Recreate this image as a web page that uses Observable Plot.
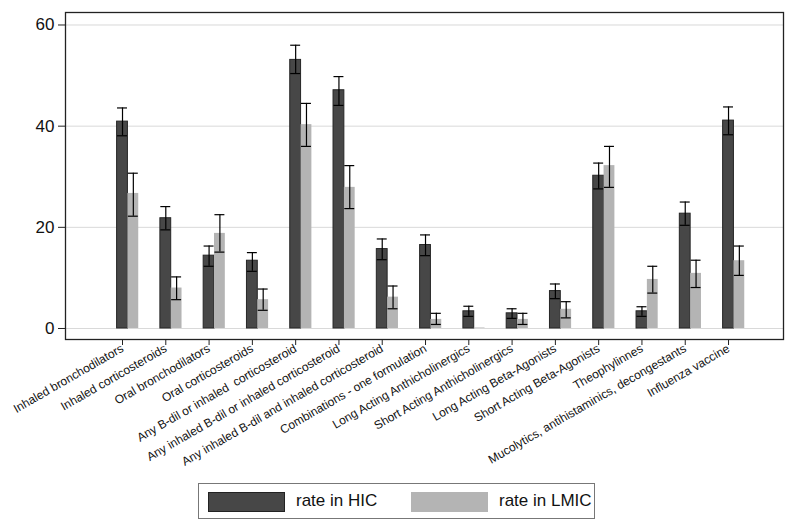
<!DOCTYPE html>
<html>
<head>
<meta charset="utf-8">
<script src="https://cdn.jsdelivr.net/npm/d3@7"></script>
<script src="https://cdn.jsdelivr.net/npm/@observablehq/plot@0.6"></script>
<style>
  body { margin: 0; background: #fff; font-family: "Liberation Sans", Arial, sans-serif; }
  #wrap { position: relative; width: 800px; height: 530px; }
  svg text { white-space: pre; }
  #legend { position: absolute; left: 198px; top: 483px; width: 397px; height: 36px; border: 1px solid #777; box-sizing: border-box; font-size: 17px; color: #111; }
  .sw { position: absolute; top: 8px; width: 77px; height: 20px; box-sizing: border-box; }
  .lab { position: absolute; top: 7px; line-height: 20px; }
</style>
</head>
<body>
<div id="wrap">
  <div id="chart"></div>
  <div id="legend">
    <div class="sw" style="left:9px;background:#474747;border:1px solid #222;"></div>
    <div class="lab" style="left:97px;">rate in HIC</div>
    <div class="sw" style="left:212px;background:#b4b4b4;"></div>
    <div class="lab" style="left:300px;">rate in LMIC</div>
  </div>
</div>
<script>
const categories = [
  "Inhaled bronchodilators",
  "Inhaled corticosteroids",
  "Oral bronchodilators",
  "Oral corticosteroids",
  "Any B-dil or inhaled  corticosteroid",
  "Any inhaled B-dil or inhaled corticosteroid",
  "Any inhaled B-dil and inhaled corticosteroid",
  "Combinations - one formulation",
  "Long Acting Anthicholinergics",
  "Short Acting Anthicholinergics",
  "Long Acting Beta-Agonists",
  "Short Acting Beta-Agonists",
  "Theophylinnes",
  "Mucolytics, antihistaminics, decongestants",
  "Influenza vaccine"
];
const hic    = [40.9, 21.8, 14.4, 13.4, 53.1, 47.1, 15.7, 16.5, 3.4, 3.0, 7.4, 30.2, 3.4, 22.7, 41.1];
const hicLo  = [38.1, 19.5, 12.3, 11.3, 50.4, 44.1, 13.6, 14.4, 2.4, 2.0, 5.9, 27.6, 2.4, 20.4, 38.3];
const hicHi  = [43.6, 24.1, 16.3, 15.0, 56.0, 49.8, 17.7, 18.5, 4.4, 3.9, 8.8, 32.7, 4.3, 25.0, 43.8];
const lmic   = [26.7, 8.0, 18.8, 5.7, 40.3, 27.9, 6.2, 1.8, 0.1, 1.8, 3.8, 32.2, 9.7, 10.9, 13.4];
const lmicLo = [22.2, 5.7, 15.1, 3.6, 36.0, 23.7, 3.9, 0.8, null, 0.8, 2.1, 27.9, 7.0, 8.1, 10.5];
const lmicHi = [30.7, 10.2, 22.5, 7.8, 44.5, 32.2, 8.4, 3.0, null, 3.0, 5.3, 36.0, 12.3, 13.5, 16.3];
const yTicks = [0, 20, 40, 60];

const barW = 0.25;   // bar width in category units
const capW = 0.115;  // half-width of error caps

const rows = categories.map((c, k) => ({
  pos: k + 1, cat: c,
  hic: hic[k], hicLo: hicLo[k], hicHi: hicHi[k],
  lmic: lmic[k], lmicLo: lmicLo[k], lmicHi: lmicHi[k]
}));
const errLmic = rows.filter(d => d.lmicLo != null);

const chart = Plot.plot({
  width: 800,
  height: 475,
  marginLeft: 65,
  marginRight: 17,
  marginTop: 12,
  marginBottom: 136,
  style: { fontFamily: "'Liberation Sans', Arial, sans-serif", color: "#111", background: "#fff" },
  x: { domain: [-0.317, 16.27], axis: null, label: null },
  y: { domain: [-2.175, 62.47], axis: null, label: null },
  marks: [
    Plot.gridY(yTicks, { stroke: "#d9d9d9", strokeOpacity: 1, strokeWidth: 1 }),
    Plot.rect(rows, { x1: d => d.pos - barW / 2, x2: d => d.pos + barW / 2, y1: 0, y2: "hic", fill: "#474747", stroke: "#262626", strokeWidth: 1 }),
    Plot.rect(rows, { x1: d => d.pos + barW / 2, x2: d => d.pos + 1.5 * barW, y1: 0, y2: "lmic", fill: "#b4b4b4" }),
    Plot.ruleX(rows, { x: "pos", y1: "hicLo", y2: "hicHi", stroke: "#000", strokeWidth: 1.2 }),
    Plot.ruleY(rows, { y: "hicLo", x1: d => d.pos - capW, x2: d => d.pos + capW, stroke: "#000", strokeWidth: 1.2 }),
    Plot.ruleY(rows, { y: "hicHi", x1: d => d.pos - capW, x2: d => d.pos + capW, stroke: "#000", strokeWidth: 1.2 }),
    Plot.ruleX(errLmic, { x: d => d.pos + barW, y1: "lmicLo", y2: "lmicHi", stroke: "#000", strokeWidth: 1.2 }),
    Plot.ruleY(errLmic, { y: "lmicLo", x1: d => d.pos + barW - capW, x2: d => d.pos + barW + capW, stroke: "#000", strokeWidth: 1.2 }),
    Plot.ruleY(errLmic, { y: "lmicHi", x1: d => d.pos + barW - capW, x2: d => d.pos + barW + capW, stroke: "#000", strokeWidth: 1.2 }),
    Plot.frame({ stroke: "#222", strokeWidth: 1.3 }),
    Plot.axisY(yTicks, { tickSize: 7, tickPadding: 4, fontSize: 17, stroke: "#222", label: null }),
    Plot.axisX(rows.map(d => d.pos), {
      tickSize: 6, tickPadding: 2, fontSize: 12, tickRotate: -30, label: null,
      tickFormat: p => categories[p - 1], stroke: "#222"
    })
  ]
});
document.getElementById("chart").appendChild(chart);
</script>
</body>
</html>
